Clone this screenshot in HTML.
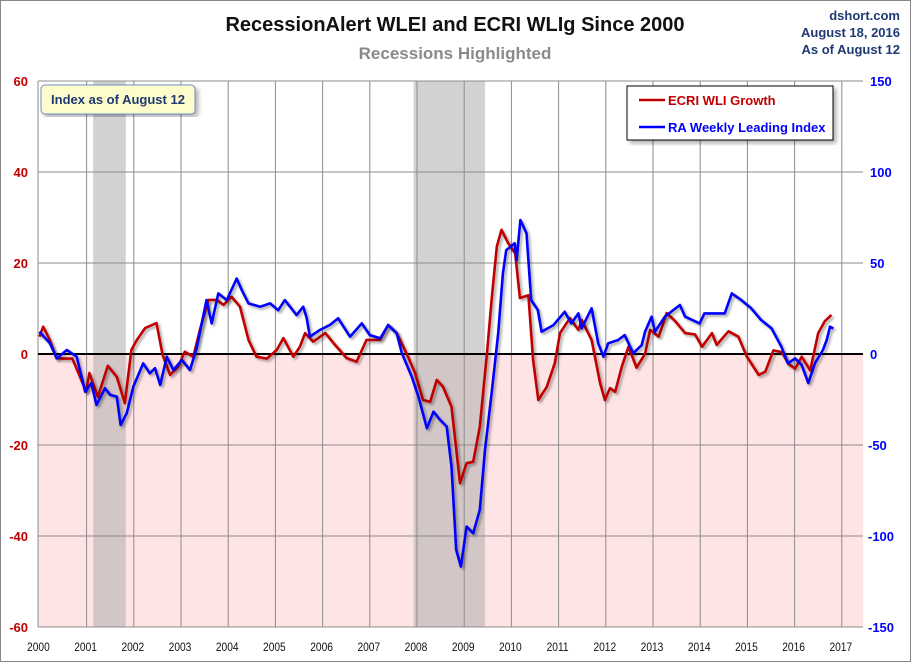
<!DOCTYPE html>
<html><head><meta charset="utf-8"><style>
body{margin:0;background:#fff;}
svg{display:block;font-family:"Liberation Sans",sans-serif;}
</style></head><body>
<svg id="chart" width="911" height="662" viewBox="0 0 911 662">
<defs><filter id="sh" x="-5%" y="-5%" width="110%" height="110%"><feDropShadow dx="2" dy="2" stdDeviation="1.2" flood-color="#000" flood-opacity="0.35"/></filter>
<filter id="bs"><feDropShadow dx="3" dy="3" stdDeviation="2" flood-color="#000" flood-opacity="0.3"/></filter></defs>
<rect x="0.5" y="0.5" width="910" height="661" fill="#fff" stroke="#888"/>
<g id="plot"></g>
<text x="455" y="31" text-anchor="middle" font-size="20" font-weight="bold" fill="#111">RecessionAlert WLEI and ECRI WLIg Since 2000</text>
<text x="455" y="59" text-anchor="middle" font-size="17" font-weight="bold" fill="#8a8a8a">Recessions Highlighted</text>
<g font-size="13" font-weight="bold" fill="#1f3a73" text-anchor="end">
<text x="900" y="20">dshort.com</text><text x="900" y="37">August 18, 2016</text><text x="900" y="54">As of August 12</text></g>
<g><rect x="41" y="85" width="154" height="29" rx="4" fill="#fdfdcb" stroke="#6f8fc9" filter="url(#bs)"/>
<text x="118" y="104" text-anchor="middle" font-size="13" font-weight="bold" fill="#1f3a73">Index as of August 12</text></g>
<g><rect x="627" y="86" width="206" height="54" fill="#fff" stroke="#000" filter="url(#bs)"/>
<line x1="639" y1="100" x2="665" y2="100" stroke="#c00000" stroke-width="2.5"/>
<text x="668" y="105" font-size="13" font-weight="bold" fill="#c00000">ECRI WLI Growth</text>
<line x1="639" y1="127" x2="665" y2="127" stroke="#0000ff" stroke-width="2.5"/>
<text x="668" y="132" font-size="13" font-weight="bold" fill="#0000ff">RA Weekly Leading Index</text></g>
</svg>
<script>
const years=[2000,2001,2002,2003,2004,2005,2006,2007,2008,2009,2010,2011,2012,2013,2014,2015,2016,2017];
const leftTicks=[60,40,20,0,-20,-40,-60];
const rightTicks=[150,100,50,0,-50,-100,-150];
const recessions=[[2001.14,2001.83],[2007.93,2009.44]];
const ecriDates=[2000.0,2000.08,2000.22,2000.36,2000.5,2000.7,2000.86,2000.99,2001.06,2001.24,2001.45,2001.64,2001.81,2001.95,2002.06,2002.24,2002.48,2002.61,2002.77,2002.94,2003.08,2003.26,2003.4,2003.58,2003.76,2003.9,2004.07,2004.25,2004.43,2004.6,2004.82,2005.03,2005.17,2005.38,2005.52,2005.63,2005.8,2006.06,2006.23,2006.51,2006.72,2006.93,2007.22,2007.39,2007.57,2007.78,2007.96,2008.13,2008.28,2008.42,2008.55,2008.73,2008.91,2009.05,2009.19,2009.33,2009.48,2009.58,2009.69,2009.79,2009.93,2010.08,2010.18,2010.36,2010.46,2010.57,2010.75,2010.92,2011.03,2011.24,2011.42,2011.49,2011.7,2011.88,2011.98,2012.09,2012.2,2012.34,2012.48,2012.65,2012.83,2012.94,2013.12,2013.29,2013.47,2013.68,2013.89,2014.04,2014.25,2014.35,2014.6,2014.81,2014.99,2015.24,2015.38,2015.55,2015.73,2015.87,2016.01,2016.15,2016.33,2016.5,2016.64,2016.78];
const ecriValues=[3.8,6.0,3.1,-0.9,-1,-1,-5,-8.3,-4.2,-9.4,-2.6,-5,-10.8,0.9,3,5.7,6.8,-0.2,-4.6,-2.8,0.5,-0.6,5.3,11.9,11.9,10.8,12.6,10.4,3.1,-0.6,-1,0.9,3.5,-0.6,1.6,4.6,2.7,4.6,2.4,-0.9,-1.7,3.1,3.1,6.4,4.6,0.1,-4.2,-10.1,-10.5,-5.7,-7.2,-11.6,-28.4,-24,-23.7,-16,0,11.9,23.6,27.3,24.4,22.1,12.3,12.9,-1.3,-10.1,-7.2,-2,4.6,7.9,5.3,7.5,3.1,-6.4,-10.1,-7.5,-8.3,-2.8,1.6,-3,0,5.3,3.8,9,7.2,4.6,4.3,1.6,4.6,2,5,3.8,-0.6,-4.6,-3.9,0.8,0.4,-2.2,-3.2,-0.6,-3.6,4.6,7.2,8.6];
const raDates=[2000.0,2000.22,2000.37,2000.58,2000.79,2000.97,2001.1,2001.21,2001.39,2001.5,2001.64,2001.72,2001.85,2001.99,2002.2,2002.34,2002.45,2002.56,2002.7,2002.84,2003.02,2003.19,2003.33,2003.54,2003.65,2003.79,2003.97,2004.18,2004.29,2004.43,2004.68,2004.89,2005.06,2005.2,2005.45,2005.59,2005.66,2005.73,2005.94,2006.15,2006.33,2006.58,2006.83,2007.0,2007.22,2007.39,2007.57,2007.68,2007.89,2008.03,2008.21,2008.35,2008.49,2008.63,2008.73,2008.83,2008.93,2009.05,2009.19,2009.33,2009.44,2009.58,2009.72,2009.82,2009.89,2010.07,2010.11,2010.19,2010.32,2010.42,2010.56,2010.64,2010.89,2011.13,2011.27,2011.42,2011.49,2011.7,2011.84,2011.95,2012.05,2012.26,2012.4,2012.58,2012.76,2012.83,2012.97,2013.04,2013.25,2013.57,2013.68,2013.99,2014.09,2014.52,2014.67,2014.87,2015.08,2015.29,2015.51,2015.72,2015.86,2016.01,2016.15,2016.29,2016.43,2016.6,2016.68,2016.75,2016.82];
const raValues=[12.2,6,-2.4,2.2,-1.5,-20.7,-16,-28,-18.8,-22.5,-23.4,-39,-32.6,-18,-5.1,-10.6,-7.8,-17,-1.5,-8.8,-3.3,-8.8,3.1,29.6,16.8,33.3,29.6,41.5,35,27.8,26,27.8,24,29.6,21.4,26,20,9.5,13.2,15.9,19.6,9.5,16.8,10.4,8.6,15.9,11.4,0.4,-12.5,-23.4,-40.8,-31.7,-36.2,-39.9,-61.9,-107.6,-116.8,-94.8,-98.5,-85.6,-52.7,-21.6,11.4,44.3,57,60.8,51.6,73.6,66.3,29.6,24.2,12.2,15.9,23.2,16.8,22.3,14.1,25.1,5.9,-1.5,5.9,7.7,10.4,0.4,4.9,12.2,20.5,12.2,20.5,26.9,20.5,16.8,22.3,22.3,33.3,29.6,25.1,18.7,14.1,4,-5.1,-2.4,-6,-16,-5.1,2.2,7.7,15,14];

const NS='http://www.w3.org/2000/svg';
const L=38,R=863,T=81,B=627;
const xOf=t=>39.4+(t-2000)*47.2;
const yL=v=>354-v*(B-T)/120;
const yR=v=>354-v*(B-T)/300;
const g=document.getElementById('plot');
function mk(tag,attrs){const e=document.createElementNS(NS,tag);for(const k in attrs)e.setAttribute(k,attrs[k]);g.appendChild(e);return e;}
let e;
e=mk('rect',{x:L,y:yL(0),width:R-L,height:B-yL(0),fill:'#ffe4e5'});


recessions.forEach(r=>{
 e=mk('rect',{x:xOf(r[0]),y:T,width:xOf(r[1])-xOf(r[0]),height:yL(0)-T,fill:'#d2d2d2'});
 
 
 e=mk('rect',{x:xOf(r[0]),y:yL(0),width:xOf(r[1])-xOf(r[0]),height:B-yL(0),fill:'#d3c6c7'});
 
 
});
leftTicks.forEach(v=>{ if(v!==0&&v!==-60){e=mk('line',{x1:L,x2:R,y1:yL(v),y2:yL(v),stroke:'#8c8c8c','stroke-width':1});
 
 }});
years.forEach(y=>{ if(y>2000){e=mk('line',{x1:xOf(y),x2:xOf(y),y1:T,y2:B,stroke:'#8c8c8c','stroke-width':1});
 
 }});
e=mk('line',{x1:L,x2:L,y1:T,y2:B,stroke:'#8c8c8c'});


e=mk('line',{x1:L,x2:R,y1:B,y2:B,stroke:'#8c8c8c'});


e=mk('line',{x1:L,x2:R,y1:yL(0),y2:yL(0),stroke:'#000','stroke-width':2});


leftTicks.forEach(v=>{e=mk('text',{x:28,y:yL(v)+5,'text-anchor':'end','font-size':13,'font-weight':'bold',fill:'#c00000'});e.textContent=v;
 
 });
rightTicks.forEach(v=>{e=mk('text',{x:v<0?868:870,y:yR(v)+5,'font-size':13,'font-weight':'bold',fill:'#0000ff'});e.textContent=v;
 
 });
years.forEach(y=>{e=mk('text',{y:651,'text-anchor':'middle','font-size':12,fill:'#111',transform:'scale(0.85,1)'});e.setAttribute('x',(xOf(y)-1)/0.85);e.textContent=y;
 
 });
function line(dates,vals,yf,col,name){
 const d=dates.map((t,i)=>(i?'L':'M')+xOf(t).toFixed(1)+','+yf(vals[i]).toFixed(1)).join('');
 e=mk('path',{d:d,fill:'none',stroke:col,'stroke-width':2.6,'stroke-linejoin':'round',filter:'url(#sh)'});
 
 
}
line(ecriDates,ecriValues,yL,'#c00000','ecri-line');
line(raDates,raValues,yR,'#0000ff','ra-line');
</script>
</body></html>
